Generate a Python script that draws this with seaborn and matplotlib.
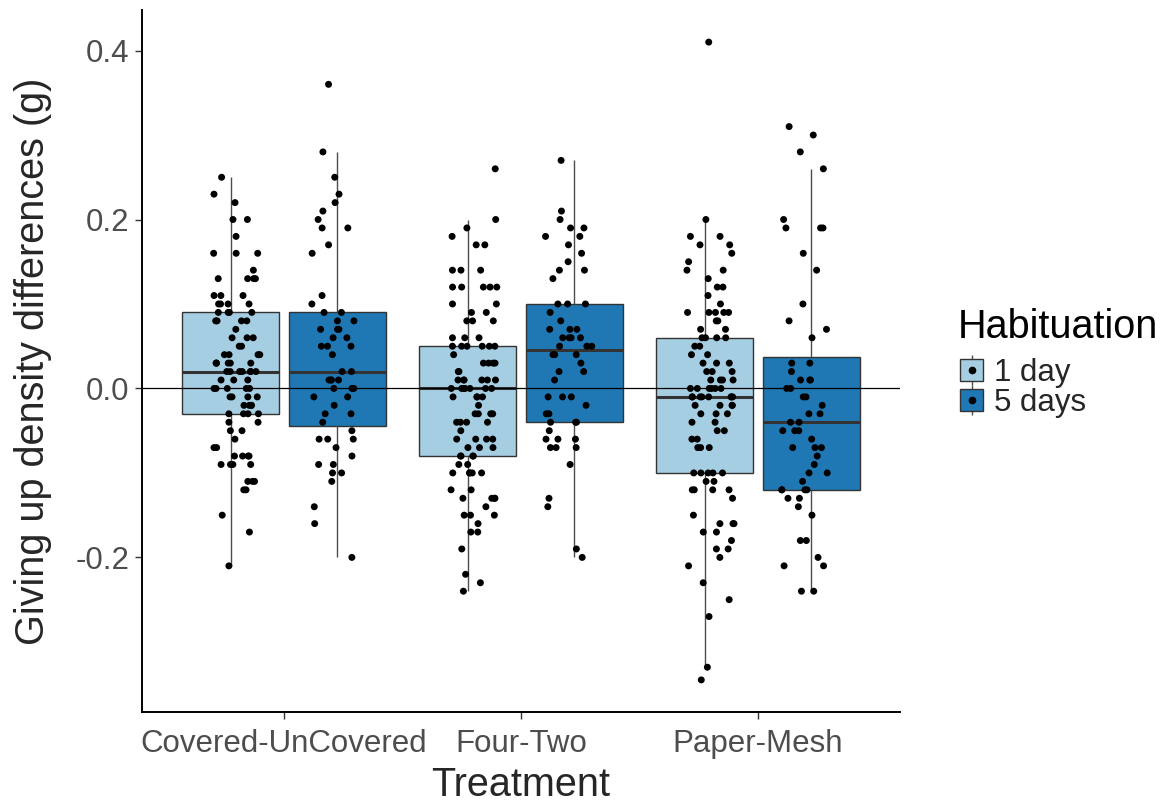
import numpy as np
import pandas as pd
import matplotlib
matplotlib.use("Agg")
import matplotlib.pyplot as plt
from matplotlib.patches import Patch
from matplotlib.lines import Line2D
from matplotlib.legend_handler import HandlerTuple
from matplotlib.ticker import FormatStrFormatter
import seaborn as sns

# Categories
treatments = ["Covered-UnCovered", "Four-Two", "Paper-Mesh"]
habituation = ["1 day", "5 days"]
box_colors = ["#A6CEE3", "#1F78B4"]
y_ticks = [-0.2, 0.0, 0.2, 0.4]

# Giving-up density differences (g), one list per treatment x habituation
covered_1day = [
    0.25, 0.23, 0.22, 0.20, 0.20, 0.18, 0.16, 0.16, 0.16, 0.14,
    0.13, 0.13, 0.13, 0.13, 0.11, 0.11, 0.11, 0.10, 0.10, 0.10, 0.10,
    0.09, 0.09, 0.09, 0.09, 0.08, 0.08, 0.08, 0.08, 0.07,
    0.06, 0.06, 0.06, 0.05, 0.05, 0.04, 0.04, 0.04, 0.04,
    0.03, 0.03, 0.03, 0.03, 0.03, 0.03,
    0.02, 0.02, 0.02, 0.02, 0.02, 0.02, 0.02, 0.01, 0.01, 0.01,
    0.00, 0.00, 0.00, 0.00, 0.00,
    -0.01, -0.01, -0.01, -0.01, -0.02, -0.02, -0.02, -0.02,
    -0.03, -0.03, -0.03, -0.03, -0.04, -0.04, -0.05, -0.05, -0.06,
    -0.07, -0.07, -0.08, -0.08, -0.08, -0.08, -0.09, -0.09, -0.09, -0.09,
    -0.11, -0.11, -0.11, -0.12, -0.12, -0.15, -0.17, -0.21,
]
covered_5days = [
    0.36, 0.28, 0.25, 0.23, 0.22, 0.21, 0.20, 0.19, 0.19, 0.17, 0.16,
    0.11, 0.10, 0.09, 0.09, 0.08, 0.08, 0.07, 0.07, 0.07,
    0.06, 0.06, 0.05, 0.05, 0.05, 0.04, 0.02, 0.02,
    0.01, 0.01, 0.01, 0.01, 0.00, 0.00, 0.00,
    -0.01, -0.01, -0.02, -0.03, -0.03, -0.04, -0.05,
    -0.06, -0.06, -0.06, -0.07, -0.08, -0.09, -0.09,
    -0.10, -0.10, -0.11, -0.14, -0.16, -0.20,
]
fourtwo_1day = [
    0.26, 0.20, 0.19, 0.18, 0.17, 0.17, 0.14, 0.14, 0.14,
    0.12, 0.12, 0.12, 0.12, 0.12, 0.10, 0.10, 0.09, 0.09,
    0.08, 0.08, 0.08, 0.06, 0.06, 0.06,
    0.05, 0.05, 0.05, 0.05, 0.05, 0.05, 0.04,
    0.03, 0.03, 0.03, 0.03, 0.02, 0.02,
    0.01, 0.01, 0.01, 0.01, 0.01, 0.01,
    0.00, 0.00, 0.00, 0.00, 0.00, 0.00, 0.00,
    -0.01, -0.01, -0.01, -0.01, -0.02,
    -0.03, -0.03, -0.03, -0.03, -0.04, -0.04, -0.04, -0.04, -0.05,
    -0.06, -0.06, -0.06, -0.06, -0.07, -0.07, -0.07,
    -0.08, -0.08, -0.08, -0.08, -0.09, -0.09,
    -0.10, -0.10, -0.10, -0.10, -0.10, -0.12, -0.12,
    -0.13, -0.13, -0.13, -0.13, -0.14, -0.15, -0.15, -0.15,
    -0.16, -0.17, -0.17, -0.19, -0.22, -0.23, -0.24,
]
fourtwo_5days = [
    0.27, 0.21, 0.20, 0.19, 0.19, 0.18, 0.18, 0.17, 0.16, 0.15,
    0.14, 0.14, 0.13, 0.10, 0.10, 0.10, 0.09, 0.08,
    0.07, 0.07, 0.07, 0.06, 0.06, 0.06, 0.06,
    0.05, 0.05, 0.05, 0.04, 0.04, 0.04, 0.03, 0.02, 0.02, 0.01,
    -0.01, -0.01, -0.01, -0.02, -0.03, -0.03,
    -0.04, -0.04, -0.04, -0.05, -0.06, -0.06, -0.06,
    -0.07, -0.07, -0.07, -0.09, -0.13, -0.14, -0.19, -0.20,
]
papermesh_1day = [
    0.41, 0.20, 0.18, 0.18, 0.17, 0.17, 0.16, 0.15, 0.14, 0.14,
    0.13, 0.12, 0.12, 0.11, 0.10, 0.09, 0.09, 0.09, 0.09, 0.09,
    0.08, 0.08, 0.07, 0.07, 0.06, 0.06, 0.06, 0.06,
    0.05, 0.05, 0.04, 0.04, 0.03, 0.03, 0.03, 0.02, 0.02, 0.02,
    0.01, 0.01, 0.01, 0.01, 0.00, 0.00, 0.00, 0.00, 0.00, 0.00,
    -0.01, -0.01, -0.01, -0.01, -0.01, -0.01, -0.01, -0.01,
    -0.02, -0.02, -0.02, -0.02, -0.03, -0.03, -0.03,
    -0.04, -0.04, -0.05, -0.05, -0.06, -0.06, -0.07, -0.07, -0.07,
    -0.10, -0.10, -0.10, -0.10, -0.10, -0.11, -0.11,
    -0.12, -0.12, -0.12, -0.12, -0.13, -0.15, -0.16, -0.16, -0.16,
    -0.17, -0.17, -0.18, -0.19, -0.19, -0.20, -0.21, -0.23,
    -0.25, -0.27, -0.33, -0.345,
]
papermesh_5days = [
    0.31, 0.30, 0.28, 0.26, 0.20, 0.19, 0.19, 0.19, 0.16, 0.14,
    0.10, 0.08, 0.07, 0.06, 0.03, 0.03, 0.02, 0.01, 0.01, 0.01,
    0.00, 0.00, -0.01, -0.01, -0.02, -0.03, -0.03, -0.04, -0.04,
    -0.05, -0.05, -0.05, -0.06, -0.07, -0.07, -0.07, -0.08, -0.09,
    -0.10, -0.10, -0.11, -0.12, -0.12, -0.12, -0.12, -0.13, -0.13,
    -0.14, -0.15, -0.18, -0.18, -0.20, -0.21, -0.21, -0.24, -0.24,
]

groups = [
    ("Covered-UnCovered", "1 day", covered_1day),
    ("Covered-UnCovered", "5 days", covered_5days),
    ("Four-Two", "1 day", fourtwo_1day),
    ("Four-Two", "5 days", fourtwo_5days),
    ("Paper-Mesh", "1 day", papermesh_1day),
    ("Paper-Mesh", "5 days", papermesh_5days),
]
df = pd.concat(
    [pd.DataFrame({"Treatment": t, "Habituation": h, "GUD": v}) for t, h, v in groups],
    ignore_index=True,
)

sns.set_style("ticks")
plt.rcParams["font.family"] = ["Liberation Sans", "DejaVu Sans"]
plt.rcParams["axes.unicode_minus"] = False

W, H = 1167, 805
fig = plt.figure(figsize=(W / 100, H / 100), dpi=100)
ax = fig.add_axes([142 / W, 93 / H, (900 - 142) / W, (712 - 10) / H])

edge = "#333333"
sns.boxplot(
    data=df, x="Treatment", y="GUD", hue="Habituation",
    order=treatments, hue_order=habituation, palette=box_colors,
    saturation=1, width=0.9, gap=0.09, showfliers=False, showcaps=False,
    linecolor=edge, linewidth=1.0, medianprops=dict(linewidth=2.2),
    whiskerprops=dict(color="#4D4D4D", linewidth=1.0),
    legend=False, ax=ax,
)
ax.axhline(0, color="black", linewidth=0.9, zorder=2.5)

np.random.seed(11)
sns.stripplot(
    data=df, x="Treatment", y="GUD", hue="Habituation",
    order=treatments, hue_order=habituation, palette=["black", "black"],
    dodge=True, jitter=0.2, size=5, linewidth=0,
    legend=False, ax=ax, zorder=3,
)

ax.set_xlim(-0.6, 2.6)
ax.set_ylim(-0.383, 0.448)
ax.set_yticks(y_ticks)
ax.yaxis.set_major_formatter(FormatStrFormatter("%.1f"))
ax.tick_params(axis="both", labelsize=22.5, labelcolor="#4D4D4D",
               length=5, width=1.0, color=edge)
ax.tick_params(axis="x", pad=7)
ax.tick_params(axis="y", pad=4)
ax.set_xlabel("Treatment", fontsize=28.5, labelpad=5)
ax.set_ylabel("Giving up density differences (g)", fontsize=28.5, labelpad=17)

for side in ["top", "right"]:
    ax.spines[side].set_visible(False)
for side in ["left", "bottom"]:
    ax.spines[side].set_linewidth(1.4)
    ax.spines[side].set_color("black")

# Legend: box key with whisker and point, title placed as its own text
handles = []
for c in box_colors:
    handles.append((
        Line2D([0], [0], color="#4D4D4D", lw=0, marker="|", markersize=21, markeredgewidth=1.0),
        Patch(facecolor=c, edgecolor=edge, linewidth=1.0),
        Line2D([0], [0], color="black", lw=0, marker="o", markersize=4.5),
    ))
fig.text(958 / W, 1 - 327 / H, "Habituation", fontsize=28.5, color="black",
         ha="left", va="center")
fig.legend(
    handles, habituation,
    handler_map={tuple: HandlerTuple(ndivide=1, pad=0)},
    loc="upper left", bbox_to_anchor=(960 / W, 1 - 358 / H),
    frameon=False, fontsize=22.5,
    handlelength=0.75, handleheight=0.7,
    handletextpad=0.35, labelspacing=0.0, borderpad=0, borderaxespad=0,
)

fig.savefig("out.png", dpi=100, facecolor="white")
